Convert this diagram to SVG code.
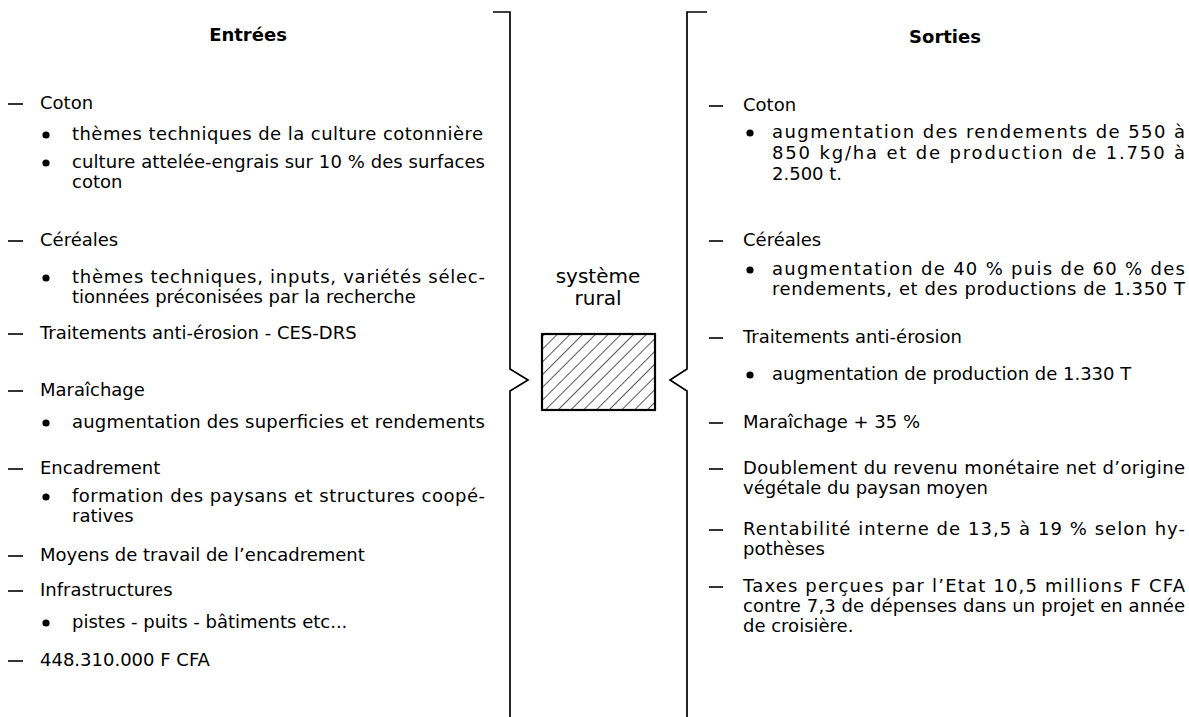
<svg xmlns="http://www.w3.org/2000/svg" width="1189" height="717" viewBox="0 0 1189 717">
<defs>
<style>
text{font-family:"DejaVu Sans","Liberation Sans",sans-serif;font-size:18px;fill:#000}
.h{font-weight:bold;text-anchor:middle}
.c{font-size:20px;text-anchor:middle}
.d{stroke:#000;stroke-width:1.6;fill:none}
.br{stroke:#000;stroke-width:1.7;fill:none}
.dot{fill:#000}
</style>
<pattern id="hatch" width="9" height="9" patternUnits="userSpaceOnUse" patternTransform="rotate(45)">
<line x1="0" y1="0" x2="0" y2="9" stroke="#000" stroke-width="1.3"/>
</pattern>
</defs>
<rect width="1189" height="717" fill="#fff"/>

<g id="connectors">
<path class="br" d="M493,12 H510 V369 L528,380 L510,391 V717"/>
<path class="br" d="M707,12 H687 V369 L670,380 L687,391 V717"/>
</g>

<g id="centre">
<text class="c" x="598" y="283">système</text>
<text class="c" x="598" y="305">rural</text>
<rect x="542" y="334" width="113" height="76" fill="url(#hatch)" stroke="#000" stroke-width="2.2"/>
</g>

<g id="entrees">
<text class="h" x="248" y="41">Entrées</text>
<line class="d" x1="8" y1="104" x2="23" y2="104"/>
<text x="40" y="109">Coton</text>
<circle class="dot" cx="46" cy="135" r="3.6"/>
<text x="72" y="140" textLength="411" lengthAdjust="spacing">thèmes techniques de la culture cotonnière</text>
<circle class="dot" cx="46" cy="163" r="3.6"/>
<text x="72" y="168" textLength="413" lengthAdjust="spacing">culture attelée-engrais sur 10 % des surfaces</text>
<text x="72" y="188">coton</text>
<line class="d" x1="8" y1="241" x2="23" y2="241"/>
<text x="40" y="246">Céréales</text>
<circle class="dot" cx="46" cy="278" r="3.6"/>
<text x="72" y="283" textLength="413" lengthAdjust="spacing">thèmes techniques, inputs, variétés sélec-</text>
<text x="72" y="303">tionnées préconisées par la recherche</text>
<line class="d" x1="8" y1="334" x2="23" y2="334"/>
<text x="40" y="339">Traitements anti-érosion - CES-DRS</text>
<line class="d" x1="8" y1="391" x2="23" y2="391"/>
<text x="40" y="396">Maraîchage</text>
<circle class="dot" cx="46" cy="423" r="3.6"/>
<text x="72" y="428" textLength="413" lengthAdjust="spacing">augmentation des superficies et rendements</text>
<line class="d" x1="8" y1="469" x2="23" y2="469"/>
<text x="40" y="474">Encadrement</text>
<circle class="dot" cx="46" cy="497" r="3.6"/>
<text x="72" y="502" textLength="413" lengthAdjust="spacing">formation des paysans et structures coopé-</text>
<text x="72" y="522">ratives</text>
<line class="d" x1="8" y1="556" x2="23" y2="556"/>
<text x="40" y="561">Moyens de travail de l’encadrement</text>
<line class="d" x1="8" y1="591" x2="23" y2="591"/>
<text x="40" y="596">Infrastructures</text>
<circle class="dot" cx="46" cy="623" r="3.6"/>
<text x="72" y="628">pistes - puits - bâtiments etc...</text>
<line class="d" x1="8" y1="661" x2="23" y2="661"/>
<text x="40" y="666">448.310.000 F CFA</text>
</g>

<g id="sorties">
<text class="h" x="945" y="43">Sorties</text>
<line class="d" x1="709" y1="106" x2="723" y2="106"/>
<text x="743" y="111">Coton</text>
<circle class="dot" cx="750" cy="133" r="3.6"/>
<text x="772" y="138" textLength="413" lengthAdjust="spacing">augmentation des rendements de 550 à</text>
<text x="772" y="159" textLength="413" lengthAdjust="spacing">850 kg/ha et de production de 1.750 à</text>
<text x="772" y="180">2.500 t.</text>
<line class="d" x1="709" y1="241" x2="723" y2="241"/>
<text x="743" y="246">Céréales</text>
<circle class="dot" cx="750" cy="270" r="3.6"/>
<text x="772" y="275" textLength="413" lengthAdjust="spacing">augmentation de 40 % puis de 60 % des</text>
<text x="772" y="295" textLength="413" lengthAdjust="spacing">rendements, et des productions de 1.350 T</text>
<line class="d" x1="709" y1="338" x2="723" y2="338"/>
<text x="743" y="343">Traitements anti-érosion</text>
<circle class="dot" cx="750" cy="375" r="3.6"/>
<text x="772" y="380">augmentation de production de 1.330 T</text>
<line class="d" x1="709" y1="423" x2="723" y2="423"/>
<text x="743" y="428">Maraîchage + 35 %</text>
<line class="d" x1="709" y1="469" x2="723" y2="469"/>
<text x="743" y="474" textLength="442" lengthAdjust="spacing">Doublement du revenu monétaire net d’origine</text>
<text x="743" y="494">végétale du paysan moyen</text>
<line class="d" x1="709" y1="530" x2="723" y2="530"/>
<text x="743" y="535" textLength="442" lengthAdjust="spacing">Rentabilité interne de 13,5 à 19 % selon hy-</text>
<text x="743" y="555">pothèses</text>
<line class="d" x1="709" y1="587" x2="723" y2="587"/>
<text x="743" y="592" textLength="442" lengthAdjust="spacing">Taxes perçues par l’Etat 10,5 millions F CFA</text>
<text x="743" y="612" textLength="442" lengthAdjust="spacing">contre 7,3 de dépenses dans un projet en année</text>
<text x="743" y="632">de croisière.</text>
</g>
</svg>
